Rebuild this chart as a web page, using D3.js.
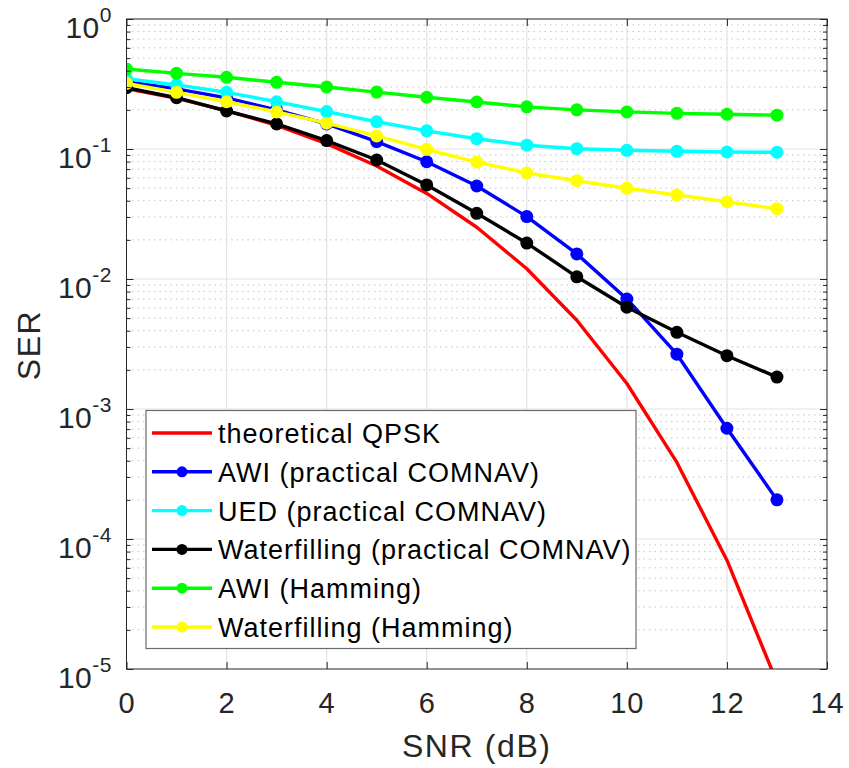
<!DOCTYPE html>
<html>
<head>
<meta charset="utf-8">
<script src="https://cdn.jsdelivr.net/npm/d3@7"></script>
<style>
  html, body { margin: 0; padding: 0; background: #fff; }
  svg { display: block; font-family: "Liberation Sans", Arial, Helvetica, sans-serif; }
</style>
</head>
<body>
<svg id="chart" width="849" height="768"></svg>
<script>
// SNR sweep (dB)
const snr = [0, 1, 2, 3, 4, 5, 6, 7, 8, 9, 10, 11, 12, 13];

// Symbol error rate per scheme
const serTheoryQPSK = [0.292, 0.245, 0.197, 0.152, 0.110, 0.0740, 0.0455, 0.0250, 0.0120, 0.00482, 0.00157, 0.000388, 0.0000687, 0.0000079];
const serAwiPractical = [0.330, 0.290, 0.247, 0.200, 0.156, 0.114, 0.0798, 0.0519, 0.0302, 0.0156, 0.00702, 0.00264, 0.000711, 0.000200];
const serUedPractical = [0.347, 0.311, 0.273, 0.231, 0.194, 0.162, 0.138, 0.120, 0.107, 0.1005, 0.0977, 0.0960, 0.0948, 0.0944];
const serWfPractical = [0.296, 0.248, 0.196, 0.156, 0.116, 0.0823, 0.0529, 0.0320, 0.0189, 0.0104, 0.00606, 0.00389, 0.00257, 0.00176];
const serAwiHamming = [0.412, 0.382, 0.356, 0.326, 0.300, 0.274, 0.250, 0.230, 0.211, 0.200, 0.193, 0.188, 0.185, 0.182];
const serWfHamming = [0.320, 0.273, 0.231, 0.193, 0.158, 0.126, 0.0995, 0.0794, 0.0654, 0.0570, 0.0499, 0.0443, 0.0393, 0.0347];

const seriesNames = [
  "theoretical QPSK",
  "AWI (practical COMNAV)",
  "UED (practical COMNAV)",
  "Waterfilling (practical COMNAV)",
  "AWI (Hamming)",
  "Waterfilling (Hamming)"
];
const seriesValues = [serTheoryQPSK, serAwiPractical, serUedPractical, serWfPractical, serAwiHamming, serWfHamming];
const seriesColors = ["#ff0000", "#0000ff", "#00ffff", "#000000", "#00ff00", "#ffff00"];
const seriesMarkers = [false, true, true, true, true, true];

// Axis ticks
const xTicks = [0, 2, 4, 6, 8, 10, 12, 14];
const yDecades = [-5, -4, -3, -2, -1, 0];

const svg = d3.select("#chart");
const pLeft = 126.5, pRight = 827, pTop = 19, pBottom = 669;

const x = d3.scaleLinear().domain([0, 14]).range([pLeft, pRight]);
const y = d3.scaleLog().domain([1e-5, 1]).range([pBottom, pTop]);

const axisColor = "#262626";
const minorVals = [];
for (let e = -5; e < 0; e++) for (let m = 2; m <= 9; m++) minorVals.push(m * Math.pow(10, e));
const majorVals = yDecades.map(e => Math.pow(10, e));

// grid
const grid = svg.append("g");
grid.selectAll("line.minor").data(minorVals).join("line")
  .attr("x1", pLeft).attr("x2", pRight)
  .attr("y1", d => y(d)).attr("y2", d => y(d))
  .attr("stroke", "#c4c4c4").attr("stroke-width", 1)
  .attr("stroke-dasharray", "1.5,4");
grid.selectAll("line.hmaj").data(majorVals.slice(1, -1)).join("line")
  .attr("x1", pLeft).attr("x2", pRight)
  .attr("y1", d => y(d)).attr("y2", d => y(d))
  .attr("stroke", "#e3e3e3").attr("stroke-width", 1.2);
grid.selectAll("line.vmaj").data(xTicks.slice(1, -1)).join("line")
  .attr("x1", d => x(d)).attr("x2", d => x(d))
  .attr("y1", pTop).attr("y2", pBottom)
  .attr("stroke", "#e3e3e3").attr("stroke-width", 1.2);

// data
svg.append("defs").append("clipPath").attr("id", "plotClip")
  .append("rect").attr("x", pLeft).attr("y", pTop).attr("width", pRight - pLeft).attr("height", pBottom - pTop);

const plot = svg.append("g").attr("clip-path", "url(#plotClip)");
const line = d3.line().x((d, i) => x(snr[i])).y(d => y(d));

seriesValues.forEach((vals, k) => {
  const g = plot.append("g");
  g.append("path").datum(vals)
    .attr("d", line)
    .attr("fill", "none")
    .attr("stroke", seriesColors[k])
    .attr("stroke-width", 3.4)
    .attr("stroke-linejoin", "round");
  if (seriesMarkers[k]) {
    g.selectAll("circle").data(vals).join("circle")
      .attr("cx", (d, i) => x(snr[i]))
      .attr("cy", d => y(d))
      .attr("r", 6.5)
      .attr("fill", seriesColors[k]);
  }
});

// axes with inward ticks
const tickStyle = g => {
  g.select(".domain").remove();
  g.selectAll(".tick line").attr("stroke", axisColor).attr("stroke-width", 1);
};
svg.append("g").attr("transform", `translate(0,${pBottom})`)
  .call(d3.axisBottom(x).tickValues(xTicks).tickSize(-7).tickPadding(0).tickFormat(d3.format("d")))
  .call(tickStyle)
  .call(g => g.selectAll(".tick text").attr("y", 44).attr("dy", null)
    .attr("font-size", 29).attr("letter-spacing", 1).attr("fill", axisColor).attr("font-family", null));
svg.append("g").attr("transform", `translate(0,${pTop})`)
  .call(d3.axisTop(x).tickValues(xTicks).tickSize(-7).tickFormat(""))
  .call(tickStyle);

svg.append("g").attr("transform", `translate(${pLeft},0)`)
  .call(d3.axisLeft(y).tickValues(majorVals).tickSize(-7).tickFormat(""))
  .call(tickStyle);
svg.append("g").attr("transform", `translate(${pLeft},0)`)
  .call(d3.axisLeft(y).tickValues(minorVals).tickSize(-4).tickFormat(""))
  .call(tickStyle);
svg.append("g").attr("transform", `translate(${pRight},0)`)
  .call(d3.axisRight(y).tickValues(majorVals).tickSize(-7).tickFormat(""))
  .call(tickStyle);
svg.append("g").attr("transform", `translate(${pRight},0)`)
  .call(d3.axisRight(y).tickValues(minorVals).tickSize(-4).tickFormat(""))
  .call(tickStyle);

// y tick labels: 10 with superscript exponent
const yLab = svg.append("g");
yDecades.forEach(e => {
  const t = yLab.append("text")
    .attr("x", 112).attr("y", y(Math.pow(10, e)) + 19)
    .attr("text-anchor", "end").attr("fill", axisColor);
  t.append("tspan").attr("font-size", 30).attr("letter-spacing", 0.5).text("10");
  t.append("tspan").attr("font-size", 21).attr("letter-spacing", 0.5).attr("dy", -16).text(e === 0 ? "0" : "-" + Math.abs(e));
});

// box
svg.append("rect").attr("x", pLeft).attr("y", pTop)
  .attr("width", pRight - pLeft).attr("height", pBottom - pTop)
  .attr("fill", "none").attr("stroke", axisColor).attr("stroke-width", 1);

// axis titles
svg.append("text").attr("x", (pLeft + pRight) / 2).attr("y", 757)
  .attr("text-anchor", "middle").attr("font-size", 32).attr("letter-spacing", 1.6).attr("fill", axisColor)
  .text("SNR (dB)");
svg.append("text").attr("transform", "translate(40,345) rotate(-90)")
  .attr("text-anchor", "middle").attr("font-size", 32).attr("letter-spacing", 1.5).attr("fill", axisColor)
  .text("SER");

// legend
const lg = svg.append("g");
lg.append("rect").attr("x", 146).attr("y", 410.5).attr("width", 490).attr("height", 238)
  .attr("fill", "#fff").attr("stroke", "#6b6b6b").attr("stroke-width", 1.2);
const rowY = i => 433 + i * 38.8;
seriesNames.forEach((name, i) => {
  lg.append("line").attr("x1", 152).attr("x2", 212)
    .attr("y1", rowY(i)).attr("y2", rowY(i))
    .attr("stroke", seriesColors[i]).attr("stroke-width", 3.4);
  if (seriesMarkers[i]) {
    lg.append("circle").attr("cx", 182).attr("cy", rowY(i)).attr("r", 5.5).attr("fill", seriesColors[i]);
  }
  lg.append("text").attr("x", 218).attr("y", rowY(i) + 10)
    .attr("font-size", 27).attr("letter-spacing", 1).attr("fill", "#000").text(name);
});
</script>
</body>
</html>
